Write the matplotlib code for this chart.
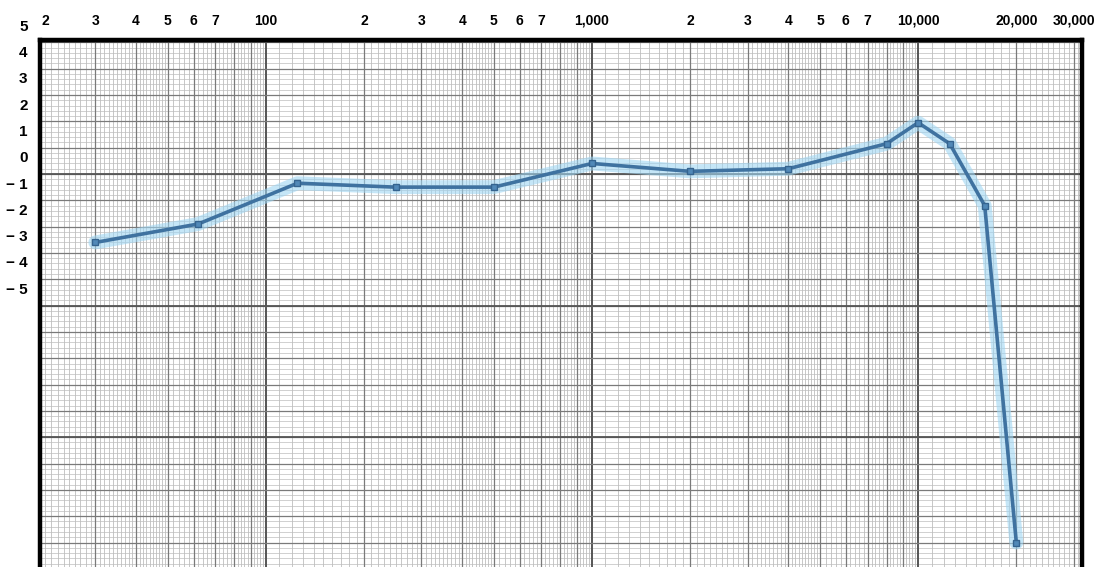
import matplotlib.pyplot as plt
import numpy as np

# measured response (frequency in Hz, level in dB)
freq_hz = [30, 62, 125, 250, 500, 1000, 2000, 4000, 8000, 10000, 12500, 16000, 20000]
level_db = [-3.2, -2.5, -0.95, -1.1, -1.1, -0.2, -0.5, -0.4, 0.55, 1.35, 0.55, -1.8, -14.6]

# printed scale labels on the graph paper
x_tick_vals = [20, 30, 40, 50, 60, 70, 100, 200, 300, 400, 500, 600, 700,
               1000, 2000, 3000, 4000, 5000, 6000, 7000, 10000, 20000, 30000]
x_tick_text = ["2", "3", "4", "5", "6", "7", "100", "2", "3", "4", "5", "6", "7",
               "1,000", "2", "3", "4", "5", "6", "7", "10,000", "20,000", "30,000"]
y_tick_vals = [5, 4, 3, 2, 1, 0, -1, -2, -3, -4, -5]
y_tick_text = ["5", "4", "3", "2", "1", "0", "\u2212 1", "\u2212 2", "\u2212 3", "\u2212 4", "\u2212 5"]

plt.rcParams['font.family'] = ['Liberation Sans', 'DejaVu Sans']

fig = plt.figure(figsize=(11, 5.67), dpi=100)
ax = fig.add_axes([40 / 1100, 0, (1082 - 40) / 1100, 1 - 40 / 567])
ax.set_xscale('log')
ax.set_xlim(20.3, 31800)
ax.set_ylim(-15.53, 4.49)

# graph paper grid
for d in [10, 100, 1000, 10000]:
    for m in range(1, 10):
        f = m * d
        lw = 1.4 if m == 1 else 0.9
        col = '#555555' if m == 1 else '#7a7a7a'
        ax.axvline(f, color=col, lw=lw, zorder=1)
        step = 0.1 if m < 5 else 0.2
        for s in np.arange(m + step, m + 1 - 1e-9, step):
            ax.axvline(s * d, color='#b0b0b0', lw=0.5, zorder=0.5)

for v in np.arange(-16, 5, 0.2):
    ax.axhline(v, color='#bdbdbd', lw=0.5, zorder=0.5)
for v in np.arange(-16.6, 5, 1.0):
    ax.axhline(v, color='#7a7a7a', lw=0.9, zorder=1)
for v in np.arange(-15.6, 5, 5.0):
    ax.axhline(v, color='#555555', lw=1.3, zorder=1)

# response curve with a highlighter-like glow
ax.plot(freq_hz, level_db, color='#9fd6f3', lw=10, alpha=0.6, solid_capstyle='round', zorder=3)
ax.plot(freq_hz, level_db, color='#3f72a0', lw=2.6, marker='s', markersize=5,
        markerfacecolor='#5189b8', markeredgecolor='#35648f', zorder=4)

ax.set_xticks([])
ax.set_yticks([])
ax.minorticks_off()
for side in ['left', 'top', 'right']:
    ax.spines[side].set_linewidth(3.2)
    ax.spines[side].set_color('black')
ax.spines['bottom'].set_visible(False)

for f, t in zip(x_tick_vals, x_tick_text):
    dx = 5 if f == 20 else 0
    ax.annotate(t, xy=(f, 1), xycoords=('data', 'axes fraction'), xytext=(dx, 14),
                textcoords='offset points', ha='center', va='center',
                fontsize=10, fontweight='bold', annotation_clip=False)

for v, t in zip(y_tick_vals, y_tick_text):
    ax.annotate(t, xy=(0, v), xycoords=('axes fraction', 'data'), xytext=(-9, 0),
                textcoords='offset points', ha='right', va='center',
                fontsize=11, fontweight='bold', annotation_clip=False)

fig.savefig('out.png', dpi=100)
